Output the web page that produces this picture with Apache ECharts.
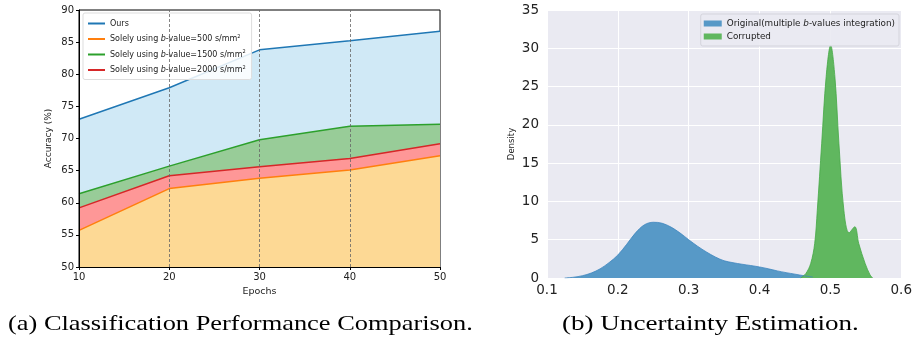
<!DOCTYPE html>
<html>
<head>
<meta charset="utf-8">
<script src="https://cdn.jsdelivr.net/npm/echarts@6/dist/echarts.min.js"></script>
<style>
  html, body { margin: 0; padding: 0; background: #fff; }
  #chart { width: 915px; height: 337px; }
</style>
</head>
<body>
<div id="chart"></div>
<script>
// (a) accuracy per epoch
var epochs = [10, 20, 30, 40, 50];
var accOurs = [73.0, 77.9, 83.8, 85.2, 86.7];
var acc500 = [55.7, 62.2, 63.8, 65.1, 67.3];
var acc1500 = [61.4, 65.7, 69.8, 71.9, 72.2];
var acc2000 = [59.2, 64.2, 65.6, 66.9, 69.2];
var dashedEpochs = [20, 30, 40];

// (b) density curves
var origX = [0.125, 0.1375, 0.15, 0.1625, 0.175, 0.1875, 0.2, 0.2125, 0.225, 0.2375, 0.25, 0.2625, 0.275, 0.2875, 0.3, 0.3125, 0.325, 0.3375, 0.35, 0.3625, 0.375, 0.3875, 0.4, 0.4125, 0.425, 0.4375, 0.45, 0.4625, 0.475];
var origY = [0, 0.1, 0.3, 0.65, 1.2, 2.0, 3.0, 4.4, 5.9, 6.95, 7.28, 7.15, 6.65, 5.9, 5.0, 4.15, 3.4, 2.75, 2.25, 2.0, 1.8, 1.63, 1.44, 1.2, 0.93, 0.7, 0.5, 0.3, 0.12];
var corrX = [0.458, 0.4652, 0.4722, 0.4778, 0.4815, 0.4877, 0.494, 0.5003, 0.5063, 0.512, 0.519, 0.5263, 0.5344, 0.54, 0.549, 0.556, 0.5597];
var corrY = [0, 0.57, 1.9, 4.5, 8.85, 17.6, 26.3, 30.4, 26.3, 17.6, 8.85, 5.9, 6.7, 4.5, 1.9, 0.4, 0];

var accTicks = { min: 50, max: 90, interval: 5 };
var densTicks = { min: 0, max: 35, interval: 5 };

function zip(xs, ys) {
  return xs.map(function (x, i) { return [x, ys[i]]; });
}

function legendRich(size) {
  return {
    i: { fontStyle: 'italic', fontSize: size, fontFamily: 'DejaVu Sans', color: '#222' },
    sup: { fontSize: 5, fontFamily: 'DejaVu Sans', color: '#222', padding: [0, 0, 5, 0] }
  };
}
var legendNames = {
  'Ours': 'Ours',
  'Solely using b-value=500 s/mm2': 'Solely using {i|b}-value=500 s/mm{sup|2}',
  'Solely using b-value=1500 s/mm2': 'Solely using {i|b}-value=1500 s/mm{sup|2}',
  'Solely using b-value=2000 s/mm2': 'Solely using {i|b}-value=2000 s/mm{sup|2}',
  'Original': 'Original(multiple {i|b}-values integration)',
  'Corrupted': 'Corrupted'
};

function accSeries(name, data, line, fill) {
  return {
    name: name,
    type: 'line',
    xAxisIndex: 0,
    yAxisIndex: 0,
    data: zip(epochs, data),
    showSymbol: false,
    lineStyle: { color: line, width: 1.5 },
    itemStyle: { color: line },
    areaStyle: { color: fill, opacity: 1, origin: 'start' }
  };
}

function densSeries(name, xs, ys, line, fill) {
  return {
    name: name,
    type: 'line',
    xAxisIndex: 1,
    yAxisIndex: 1,
    data: zip(xs, ys),
    smooth: 0.35,
    showSymbol: false,
    lineStyle: { color: line, width: 0.8 },
    itemStyle: { color: fill },
    areaStyle: { color: fill, opacity: 1 }
  };
}

var tickFont = { fontFamily: 'DejaVu Sans', color: '#222' };

var series = [
  accSeries('Ours', accOurs, '#1f77b4', '#d0e9f6'),
  accSeries('Solely using b-value=1500 s/mm2', acc1500, '#2ca02c', '#98cc98'),
  accSeries('Solely using b-value=2000 s/mm2', acc2000, '#d62728', '#fe9797'),
  accSeries('Solely using b-value=500 s/mm2', acc500, '#ff7f0e', '#fdd995'),
  densSeries('Original', origX, origY, '#3f86bf', '#5799c7'),
  densSeries('Corrupted', corrX, corrY, '#45a845', '#60b75f')
];
// dashed vertical guides drawn over the filled areas
series[3].markLine = {
  silent: true,
  symbol: 'none',
  label: { show: false },
  lineStyle: { color: '#666', type: [3, 2], width: 0.8 },
  data: dashedEpochs.map(function (e) { return { xAxis: e }; })
};

var captionFont = '22px "Liberation Serif"';
var boxLine = { show: true, lineStyle: { color: '#000', width: 1 } };

var option = {
  animation: false,
  backgroundColor: '#fff',
  grid: [
    { left: 79, top: 10, width: 361, height: 257, show: true, borderColor: '#000', borderWidth: 1 },
    { left: 547, top: 10, width: 356, height: 268, show: true, backgroundColor: '#eaeaf2', borderWidth: 0 }
  ],
  xAxis: [
    {
      type: 'value', gridIndex: 0, min: 10, max: 50, interval: 10, z: 10,
      name: 'Epochs', nameLocation: 'middle', nameGap: 17,
      nameTextStyle: { fontFamily: 'DejaVu Sans', fontSize: 9.5, color: '#222' },
      axisLine: boxLine,
      axisTick: { show: true, length: 3, lineStyle: { color: '#000' } },
      axisLabel: Object.assign({ fontSize: 10, margin: 5 }, tickFont),
      splitLine: { show: false }
    },
    {
      type: 'value', gridIndex: 1, min: 0.1, max: 0.6, interval: 0.1,
      axisLine: { show: false },
      axisTick: { show: false },
      axisLabel: Object.assign({ fontSize: 13.5, margin: 5, formatter: function (v) { return v.toFixed(1); } }, tickFont),
      splitLine: { show: true, lineStyle: { color: '#fff', width: 1 } }
    }
  ],
  yAxis: [
    {
      type: 'value', gridIndex: 0, min: accTicks.min, max: accTicks.max, interval: accTicks.interval, z: 10,
      name: 'Accuracy (%)', nameLocation: 'middle', nameGap: 26,
      nameTextStyle: { fontFamily: 'DejaVu Sans', fontSize: 9, color: '#222' },
      axisLine: boxLine,
      axisTick: { show: true, length: 3, lineStyle: { color: '#000' } },
      axisLabel: Object.assign({ fontSize: 10, margin: 5 }, tickFont),
      splitLine: { show: false }
    },
    {
      type: 'value', gridIndex: 1, min: densTicks.min, max: densTicks.max, interval: densTicks.interval,
      name: 'Density', nameLocation: 'middle', nameGap: 31,
      nameTextStyle: { fontFamily: 'DejaVu Sans', fontSize: 8.5, color: '#222' },
      axisLine: { show: false },
      axisTick: { show: false },
      axisLabel: Object.assign({ fontSize: 13.5, margin: 8 }, tickFont),
      splitLine: { show: true, lineStyle: { color: '#fff', width: 1 } }
    }
  ],
  legend: [
    {
      data: ['Ours', 'Solely using b-value=500 s/mm2', 'Solely using b-value=1500 s/mm2', 'Solely using b-value=2000 s/mm2'],
      orient: 'vertical', left: 83, top: 13, itemGap: 4.5,
      itemWidth: 17, itemHeight: 2, icon: 'rect',
      padding: [5, 6, 4, 5],
      backgroundColor: 'rgba(255,255,255,0.85)', borderColor: '#ddd', borderWidth: 1, borderRadius: 2,
      textStyle: { fontFamily: 'DejaVu Sans', fontSize: 8, color: '#222', rich: legendRich(8), lineHeight: 11 },
      formatter: function (n) { return legendNames[n]; }
    },
    {
      data: ['Original', 'Corrupted'],
      orient: 'vertical', right: 16, top: 14, itemGap: 4,
      itemWidth: 18, itemHeight: 6, icon: 'rect',
      padding: [5, 4, 5, 3],
      backgroundColor: 'rgba(234,234,242,0.9)', borderColor: '#d4d4dc', borderWidth: 1, borderRadius: 2,
      textStyle: { fontFamily: 'DejaVu Sans', fontSize: 8.8, color: '#222', rich: legendRich(8.8) },
      formatter: function (n) { return legendNames[n]; }
    }
  ],
  graphic: [
    {
      type: 'text', x: 8, y: 313, scaleX: 1.2,
      style: { text: '(a) Classification Performance Comparison.', font: captionFont, fill: '#000', verticalAlign: 'top' }
    },
    {
      type: 'text', x: 562, y: 313, scaleX: 1.23,
      style: { text: '(b) Uncertainty Estimation.', font: captionFont, fill: '#000', verticalAlign: 'top' }
    }
  ],
  series: series
};

var chart = echarts.init(document.getElementById('chart'));
chart.setOption(option);
</script>
</body>
</html>
